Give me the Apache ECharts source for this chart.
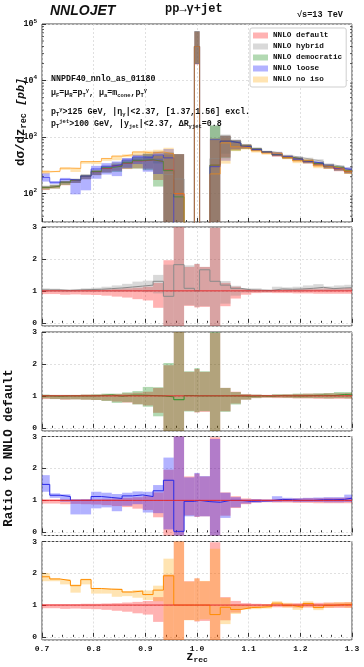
<!DOCTYPE html>
<html>
<head>
<meta charset="utf-8">
<script src="https://cdn.jsdelivr.net/npm/echarts@6/dist/echarts.min.js"></script>
<style>
html, body { margin: 0; padding: 0; background: #fff; }
#chartId { width: 364px; height: 667px; }
</style>
</head>
<body>
<div id="chartId"></div>
<script>
// z_rec bin edges (31 bins, narrow one around z = 1)
var edges = [0.7, 0.715, 0.735, 0.755, 0.775, 0.795, 0.815, 0.835, 0.855, 0.875, 0.895, 0.915, 0.935, 0.955, 0.975, 0.995,
    1.005, 1.025, 1.045, 1.065, 1.085, 1.105, 1.125, 1.145, 1.165, 1.185, 1.205, 1.225, 1.245, 1.265, 1.285, 1.3];

// NNLO default, dsigma/dz_rec [pb] and its band relative to the central value
var defCentral = [129, 137, 160, 174, 205, 245, 280, 310, 345, 380, 395, 372, 264, 100, 12, 40000,
    12, 320, 850, 785, 703, 614, 550, 486, 442, 408, 370, 336, 302, 274, 246];
var defLoR = [0.90, 0.90, 0.88, 0.89, 0.88, 0.87, 0.85, 0.82, 0.79, 0.74, 0.70, 0.47, -0.5, -2, 0.53, 0.48,
    0.50, -2, 0.52, 0.76, 0.88, 0.93, 0.94, 0.93, 0.93, 0.92, 0.92, 0.91, 0.91, 0.91, 0.91];
var defHiR = [1.03, 1.03, 1.03, 1.03, 1.04, 1.04, 1.05, 1.06, 1.08, 1.10, 1.13, 1.25, 1.96, 5, 1.75, 1.84,
    1.75, 2.98, 1.25, 1.13, 1.06, 1.04, 1.03, 1.04, 1.05, 1.06, 1.07, 1.07, 1.08, 1.08, 1.09];

// ratios to NNLO default (central, low, high)
var hybC = [1.03, 1.03, 1.01, 1.03, 1.04, 1.05, 1.07, 1.09, 1.12, 1.15, 1.18, 1.30, 0.83, 1.82, 1.08, 1.00,
    1.66, 1.30, 1.18, 1.08, 1.03, 1.02, 1.01, 1.06, 1.05, 1.06, 1.08, 1.11, 1.07, 1.09, 1.10];
var hybLo = [0.97, 0.97, 0.96, 0.97, 0.97, 0.97, 0.97, 0.97, 0.98, 0.98, 0.96, 0.92, -0.5, -2, 0.55, 0.50,
    0.52, -2, 0.60, 0.85, 0.95, 0.96, 0.96, 0.98, 0.98, 0.98, 0.99, 1.00, 0.99, 1.00, 1.00];
var hybHi = [1.08, 1.07, 1.05, 1.06, 1.08, 1.10, 1.13, 1.17, 1.22, 1.29, 1.32, 1.50, 1.82, 5, 1.80, 1.85,
    1.75, 5, 1.31, 1.16, 1.08, 1.08, 1.05, 1.13, 1.11, 1.13, 1.17, 1.21, 1.14, 1.17, 1.19];

var demC = [1.00, 0.99, 1.00, 1.00, 1.00, 1.01, 1.03, 0.99, 1.02, 1.02, 1.01, 1.00, 0.97, 0.88, 1.01, 1.00,
    1.00, 1.00, 1.00, 1.00, 0.99, 1.00, 0.99, 1.01, 1.00, 1.00, 1.01, 1.02, 1.01, 1.04, 1.03];
var demLo = [0.92, 0.90, 0.89, 0.89, 0.88, 0.87, 0.84, 0.78, 0.80, 0.73, 0.66, 0.36, -0.5, -2, 0.51, 0.49,
    0.52, -2, 0.50, 0.73, 0.88, 0.93, 0.95, 0.95, 0.94, 0.93, 0.93, 0.93, 0.92, 0.93, 0.92];
var demHi = [1.04, 1.03, 1.03, 1.03, 1.04, 1.05, 1.07, 1.07, 1.11, 1.15, 1.28, 1.27, 2.03, 5, 1.77, 1.87,
    1.77, 5, 1.25, 1.12, 1.05, 1.04, 1.03, 1.05, 1.05, 1.07, 1.07, 1.08, 1.09, 1.12, 1.12];

var looC = [1.50, 1.16, 1.12, 1.00, 1.00, 1.12, 1.09, 1.06, 1.14, 1.17, 1.12, 1.30, 1.63, 0.03, 0.97, 1.00,
    0.96, 0.94, 1.00, 1.00, 0.97, 0.98, 0.99, 1.03, 1.02, 1.00, 1.00, 1.02, 1.02, 1.03, 1.07];
var looLo = [1.27, 1.08, 0.96, 0.56, 0.56, 0.75, 0.78, 0.66, 0.83, 0.88, 0.62, 0.60, 0.09, -2, 0.50, 0.49,
    0.50, -2, 0.45, 0.78, 0.90, 0.93, 0.95, 0.95, 0.96, 0.95, 0.95, 0.95, 0.94, 0.94, 0.95];
var looHi = [1.79, 1.22, 1.19, 1.03, 1.03, 1.27, 1.24, 1.20, 1.24, 1.28, 1.27, 1.48, 2.34, 5, 1.72, 1.86,
    1.76, 2.92, 1.24, 1.10, 1.03, 1.04, 1.03, 1.13, 1.08, 1.07, 1.08, 1.09, 1.10, 1.10, 1.18];

var nisC = [1.89, 1.82, 1.77, 1.61, 1.80, 1.52, 1.50, 1.49, 1.41, 1.44, 1.33, 1.47, 1.92, 1.00, 1.00, 1.00,
    1.00, 0.70, 0.93, 0.86, 0.92, 0.93, 0.95, 1.06, 0.99, 0.93, 1.05, 0.92, 0.99, 1.02, 1.02];
var nisLo = [1.75, 1.75, 1.65, 1.39, 1.65, 1.36, 1.36, 1.26, 1.28, 1.23, 1.16, 1.12, -2, -2, 0.52, 0.50,
    0.55, -2, 0.40, 0.72, 0.86, 0.87, 0.89, 0.97, 0.92, 0.85, 0.95, 0.84, 0.92, 0.95, 0.92];
var nisHi = [2.01, 1.85, 1.82, 1.65, 1.83, 1.54, 1.52, 1.52, 1.44, 1.47, 1.46, 1.61, 2.46, 5, 1.74, 1.84,
    1.76, 2.77, 1.23, 1.02, 0.99, 0.97, 1.02, 1.12, 1.07, 1.02, 1.12, 1.02, 1.07, 1.09, 1.09];

var names = ['NNLO default', 'NNLO hybrid', 'NNLO democratic', 'NNLO loose', 'NNLO no iso'];
var fills = ['rgba(255,0,0,0.3)', 'rgba(128,128,128,0.3)', 'rgba(0,128,0,0.3)', 'rgba(0,0,255,0.3)', 'rgba(255,165,0,0.3)'];
var lineColors = ['#e5282b', '#8a8a8a', '#2a922a', '#2828e6', '#ff8c00'];
var ratioSets = [[hybC, hybLo, hybHi], [demC, demLo, demHi], [looC, looLo, looHi], [nisC, nisLo, nisHi]];

var LOGMIN = 31.6228, LOGMAX = 100000;
var RMIN = -0.1, RMAX = 3;
var MONO = '"Liberation Mono", "DejaVu Sans Mono", monospace';
var nb = defCentral.length;

// grid boxes: main panel + four ratio panels
var grids = [
    {left: 42, right: 12, top: 24, height: 198},
    {left: 42, right: 12, top: 227, height: 99},
    {left: 42, right: 12, top: 332, height: 99},
    {left: 42, right: 12, top: 436.5, height: 99},
    {left: 42, right: 12, top: 541.5, height: 98.5}
];

function bandSeries(g, k, lo, hi, ymin, ymax, name){
    var data = [];
    for(var i = 0; i < nb; i++){
        var a = Math.max(lo[i], ymin), b = Math.min(hi[i], ymax);
        if(b <= a) continue;
        data.push([edges[i], edges[i + 1], a, b]);
    }
    var fill = fills[k];
    var s = {
        type: 'custom', xAxisIndex: g, yAxisIndex: g, silent: true, z: 2,
        itemStyle: {color: fill},
        encode: {x: [0, 1], y: [2, 3]},
        renderItem: function(params, api){
            var p0 = api.coord([api.value(0), api.value(3)]);
            var p1 = api.coord([api.value(1), api.value(2)]);
            return {
                type: 'rect',
                shape: {x: p0[0], y: p0[1], width: p1[0] - p0[0], height: p1[1] - p0[1]},
                style: {fill: fill}
            };
        },
        data: data
    };
    if(name) s.name = name;
    return s;
}

function stepSeries(g, k, vals, isLog, opacity){
    var pts = [];
    for(var i = 0; i < nb; i++){
        var v = vals[i];
        if(isLog) v = Math.min(Math.max(v, 3), 1e6);
        pts.push([edges[i], v]);
    }
    pts.push([edges[nb], pts[nb - 1][1]]);
    return {
        type: 'line', step: 'end', xAxisIndex: g, yAxisIndex: g, silent: true, z: 3,
        symbol: 'none', showSymbol: false, clip: true,
        lineStyle: {color: lineColors[k], width: 1, opacity: opacity || 1},
        data: pts
    };
}

var series = [];
// main panel: absolute cross sections
var mainC = [];
for(var k = 0; k < 5; k++){
    var c = [], lo = [], hi = [];
    for(var i = 0; i < nb; i++){
        var d = defCentral[i];
        if(k === 0){
            c.push(d); lo.push(d * defLoR[i]); hi.push(d * defHiR[i]);
        }else{
            var r = ratioSets[k - 1];
            c.push(d * r[0][i]); lo.push(d * r[1][i]); hi.push(d * r[2][i]);
        }
    }
    mainC.push(c);
    series.push(bandSeries(0, k, lo, hi, LOGMIN, LOGMAX, names[k]));
}
for(var k = 0; k < 5; k++){
    series.push(stepSeries(0, k, mainC[k], true, 0.6));
}

// ratio panels
var ones = defCentral.map(function(){ return 1; });
for(var g = 1; g <= 4; g++){
    var rs = ratioSets[g - 1];
    series.push(bandSeries(g, 0, defLoR, defHiR, RMIN, RMAX));
    series.push(bandSeries(g, g, rs[1], rs[2], RMIN, RMAX));
    series.push(stepSeries(g, g, rs[0], false));
    series.push(stepSeries(g, 0, ones, false));
}

// minor ticks of the log axis
var minorVals = [];
for(var n = 1; n <= 4; n++){
    for(var m = 2; m <= 9; m++){
        var mv = m * Math.pow(10, n);
        if(mv > LOGMIN && mv < LOGMAX) minorVals.push([1.0, mv]);
    }
}
series.push({
    type: 'custom', xAxisIndex: 0, yAxisIndex: 0, silent: true, z: 4,
    encode: {x: 0, y: 1},
    renderItem: function(params, api){
        var p = api.coord([0.7, api.value(1)]);
        var q = api.coord([1.3, api.value(1)]);
        return {type: 'group', children: [
            {type: 'line', shape: {x1: p[0], y1: p[1], x2: p[0] + 2, y2: p[1]}, style: {stroke: '#333', lineWidth: 0.8}},
            {type: 'line', shape: {x1: q[0], y1: q[1], x2: q[0] - 2, y2: q[1]}, style: {stroke: '#333', lineWidth: 0.8}}
        ]};
    },
    data: minorVals
});

var xAxes = [], yAxes = [];
for(var g = 0; g < 5; g++){
    xAxes.push({
        type: 'value', gridIndex: g, min: 0.7, max: 1.3, interval: 0.1,
        axisLine: {show: false},
        axisTick: {show: true, inside: true, length: 4, lineStyle: {color: '#333'}},
        minorTick: {show: true, splitNumber: 5, length: 2, lineStyle: {color: '#333'}},
        splitLine: {show: true, lineStyle: {color: '#d8d8d8', type: [2, 2], width: 0.8}},
        axisLabel: {
            show: g === 4, margin: 5, color: '#111', fontFamily: MONO, fontWeight: 'bold', fontSize: 8,
            formatter: function(v){ return v.toFixed(1); }
        }
    });
    if(g === 0){
        yAxes.push({
            type: 'log', logBase: 10, gridIndex: 0, min: LOGMIN, max: LOGMAX, splitNumber: 4,
            axisLine: {show: false},
            axisTick: {show: true, inside: true, length: 4, lineStyle: {color: '#333'}},
            splitLine: {show: true, lineStyle: {color: '#d8d8d8', type: [2, 2], width: 0.8}},
            axisLabel: {
                margin: 5, color: '#111', fontFamily: MONO, fontWeight: 'bold', fontSize: 8.3, lineHeight: 12,
                showMinLabel: false,
                formatter: function(v){
                    var e = Math.log10(v);
                    if(Math.abs(e - Math.round(e)) > 1e-6) return '';
                    return '10{s|' + Math.round(e) + '}';
                },
                rich: {s: {fontSize: 6, lineHeight: 6, verticalAlign: 'top', color: '#111', fontFamily: MONO, fontWeight: 'bold'}}
            }
        });
    }else{
        yAxes.push({
            type: 'value', gridIndex: g, min: RMIN, max: RMAX, splitNumber: 3,
            axisLine: {show: false},
            axisTick: {show: true, inside: true, length: 4, lineStyle: {color: '#333'}},
            splitLine: {show: true, lineStyle: {color: '#d8d8d8', type: [2, 2], width: 0.8}},
            axisLabel: {
                margin: 5, color: '#111', fontFamily: MONO, fontWeight: 'bold', fontSize: 8,
                showMinLabel: false,
                formatter: function(v){ return Math.abs(v - Math.round(v)) < 1e-6 ? String(Math.round(v)) : ''; }
            }
        });
    }
}

var supS = {fontSize: 5.5, lineHeight: 5, verticalAlign: 'top', fill: '#111', fontFamily: MONO, fontWeight: 'bold'};
var subS = {fontSize: 5.5, lineHeight: 5, verticalAlign: 'bottom', fill: '#111', fontFamily: MONO, fontWeight: 'bold'};

function note(x, y, text, size){
    return {
        type: 'text', x: x, y: y, z: 10, silent: true,
        style: {
            text: text, fill: '#111', fontFamily: MONO, fontWeight: 'bold', fontSize: size,
            lineHeight: 11, verticalAlign: 'middle', rich: {s: subS, u: supS}
        }
    };
}

var graphic = [
    {type: 'text', x: 50, y: 11, z: 10, silent: true,
        style: {text: 'NNLOJET', fill: '#111', font: 'italic bold 14px "Liberation Sans", Arial', verticalAlign: 'middle'}},
    {type: 'text', x: 165, y: 9, z: 10, silent: true,
        style: {text: 'pp→γ+jet', fill: '#111', fontFamily: MONO, fontWeight: 'bold', fontSize: 12, verticalAlign: 'middle'}},
    {type: 'text', x: 297, y: 15, z: 10, silent: true,
        style: {text: '√s=13 TeV', fill: '#111', fontFamily: MONO, fontWeight: 'bold', fontSize: 8.5, verticalAlign: 'middle'}},
    note(51, 79, 'NNPDF40_nnlo_as_01180', 8.3),
    note(51, 93, 'μ{s|F}=μ{s|R}=p{s|T}{u|γ}, μ{s|a}=m{s|cone},p{s|T}{u|γ}', 8.3),
    note(51, 112, 'p{s|T}{u|γ}>125 GeV, |η{s|γ}|<2.37, [1.37,1.56] excl.', 8.3),
    note(51, 124, 'p{s|T}{u|jet}>100 GeV, |y{s|jet}|<2.37, ΔR{s|γjet}=0.8', 8.3),
    {type: 'text', x: 21, y: 122, rotation: Math.PI / 2, z: 10, silent: true,
        style: {
            text: 'dσ/dz{s|rec} {i|[pb]}', fill: '#111', fontFamily: MONO, fontWeight: 'bold', fontSize: 12.5,
            lineHeight: 15, align: 'center', verticalAlign: 'middle',
            rich: {
                s: {fontSize: 8.5, lineHeight: 8, verticalAlign: 'bottom', fill: '#111', fontFamily: MONO, fontWeight: 'bold'},
                i: {fontSize: 11.5, fontStyle: 'italic', fill: '#111', fontFamily: MONO, fontWeight: 'bold'}
            }
        }},
    {type: 'text', x: 9, y: 448, rotation: Math.PI / 2, z: 10, silent: true,
        style: {text: 'Ratio to NNLO default', fill: '#111', fontFamily: MONO, fontWeight: 'bold', fontSize: 12.5,
            align: 'center', verticalAlign: 'middle'}},
    {type: 'text', x: 197, y: 657, z: 10, silent: true,
        style: {
            text: 'z{s|rec}', fill: '#111', fontFamily: MONO, fontWeight: 'bold', fontSize: 12,
            lineHeight: 14, align: 'center', verticalAlign: 'middle',
            rich: {s: {fontSize: 8, lineHeight: 8, verticalAlign: 'bottom', fill: '#111', fontFamily: MONO, fontWeight: 'bold'}}
        }}
];

var chart = echarts.init(document.getElementById('chartId'));
var option = {
    animation: false,
    backgroundColor: '#fff',
    grid: grids.map(function(gr){
        return Object.assign({show: true, borderColor: '#444', borderWidth: 1, backgroundColor: 'transparent'}, gr);
    }),
    xAxis: xAxes,
    yAxis: yAxes,
    legend: {
        data: names.map(function(n){ return {name: n, icon: 'rect'}; }),
        left: 250, top: 28, orient: 'vertical',
        itemWidth: 15, itemHeight: 6, itemGap: 2,
        backgroundColor: '#fff', borderColor: '#cfcfcf', borderWidth: 1, borderRadius: 2,
        padding: [3, 4, 3, 3], selectedMode: false,
        textStyle: {fontFamily: MONO, fontWeight: 'bold', fontSize: 7.7, color: '#111', lineHeight: 9}
    },
    graphic: graphic,
    series: series
};
chart.setOption(option);
</script>
</body>
</html>
